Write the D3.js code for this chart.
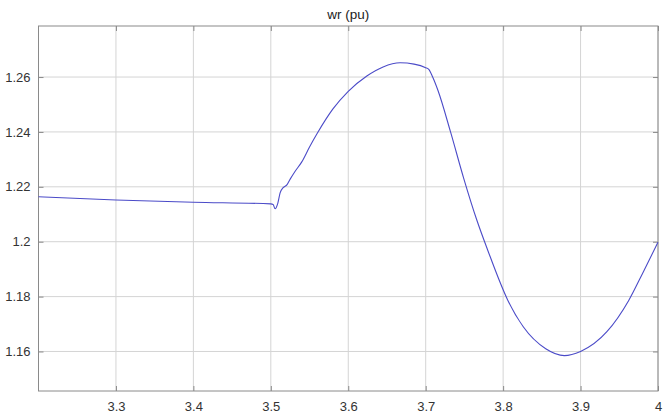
<!DOCTYPE html>
<html>
<head>
<meta charset="utf-8">
<script src="https://cdn.jsdelivr.net/npm/d3@7"></script>
<style>
  body { margin: 0; background: #fff; }
  .tick text { font-family: "Liberation Sans Narrow", "Arial Narrow", "Liberation Sans", sans-serif; font-size: 13px; fill: #333; }
</style>
</head>
<body>
<div id="chart"></div>
<script>
// time (s) and rotor speed (pu)
const timeVals = [3.2, 3.3, 3.4, 3.5, 3.503, 3.5055, 3.509, 3.512, 3.516, 3.521, 3.525, 3.531, 3.54, 3.55, 3.56,
                  3.58, 3.6, 3.624, 3.645, 3.667, 3.685, 3.7, 3.704, 3.709, 3.716, 3.732, 3.749, 3.766, 3.78,
                  3.806, 3.826, 3.855, 3.879, 3.9, 3.934, 3.962, 3.981, 4.0];
const wrVals = [1.2164, 1.2152, 1.2144, 1.2138, 1.2136, 1.2120, 1.2140, 1.2178, 1.2197, 1.2208, 1.2228, 1.2255, 1.2291, 1.2345, 1.2395,
                1.2483, 1.2548, 1.2604, 1.2637, 1.2652, 1.2647, 1.2634, 1.2628, 1.2600, 1.2550, 1.2401, 1.2232, 1.2079, 1.1970,
                1.1787, 1.1690, 1.1610, 1.1585, 1.1600, 1.1672, 1.1785, 1.1890, 1.1998];
const xTicks = [3.3, 3.4, 3.5, 3.6, 3.7, 3.8, 3.9, 4.0];
const yTicks = [1.16, 1.18, 1.20, 1.22, 1.24, 1.26];
const title = "wr (pu)";

const W = 670, H = 414;
const margin = { top: 26, right: 12, bottom: 23, left: 38.5 },
      width = W - margin.left - margin.right,
      height = H - margin.top - margin.bottom;

const svg = d3.select("#chart").append("svg")
  .attr("width", W).attr("height", H);
const g = svg.append("g").attr("transform", `translate(${margin.left},${margin.top})`);

const x = d3.scaleLinear().domain([3.2, 4.0]).range([0, width]);
const y = d3.scaleLinear().domain([1.1456, 1.2786]).range([height, 0]);

// grid
g.append("g").selectAll("line").data(xTicks).join("line")
  .attr("x1", d => x(d)).attr("x2", d => x(d)).attr("y1", 0).attr("y2", height)
  .attr("stroke", "#d4d4d4").attr("stroke-width", 1);
g.append("g").selectAll("line").data(yTicks).join("line")
  .attr("x1", 0).attr("x2", width).attr("y1", d => y(d)).attr("y2", d => y(d))
  .attr("stroke", "#d4d4d4").attr("stroke-width", 1);

// axes
const fmt = d => d3.format("")(+d.toFixed(2));
const styleAxis = sel => {
  sel.select(".domain").remove();
  sel.selectAll(".tick line").attr("stroke", "#8a8a8a");
};
g.append("g").attr("transform", `translate(0,${height})`)
  .call(d3.axisBottom(x).tickValues(xTicks).tickFormat(fmt).tickSizeInner(-5).tickSizeOuter(0).tickPadding(11))
  .call(styleAxis);
g.append("g")
  .call(d3.axisTop(x).tickValues(xTicks).tickFormat("").tickSizeInner(-5).tickSizeOuter(0))
  .call(styleAxis);
g.append("g")
  .call(d3.axisLeft(y).tickValues(yTicks).tickFormat(fmt).tickSizeInner(-5).tickSizeOuter(0).tickPadding(8))
  .call(styleAxis);
g.append("g").attr("transform", `translate(${width},0)`)
  .call(d3.axisRight(y).tickValues(yTicks).tickFormat("").tickSizeInner(-5).tickSizeOuter(0))
  .call(styleAxis);

// frame
g.append("rect").attr("width", width).attr("height", height)
  .attr("fill", "none").attr("stroke", "#8a8a8a").attr("stroke-width", 1);

// trace
const data = timeVals.map((t, i) => ({ t: t, v: wrVals[i] }));
g.append("path").datum(data)
  .attr("fill", "none").attr("stroke", "#4b4bc8").attr("stroke-width", 1.1)
  .attr("d", d3.line().x(d => x(d.t)).y(d => y(d.v)).curve(d3.curveMonotoneX));

// title
svg.append("text")
  .attr("x", margin.left + width / 2).attr("y", 19)
  .attr("text-anchor", "middle")
  .style("font-family", "'Liberation Sans', Arial, sans-serif")
  .style("font-size", "13.5px").style("fill", "#222")
  .text(title);
</script>
</body>
</html>
